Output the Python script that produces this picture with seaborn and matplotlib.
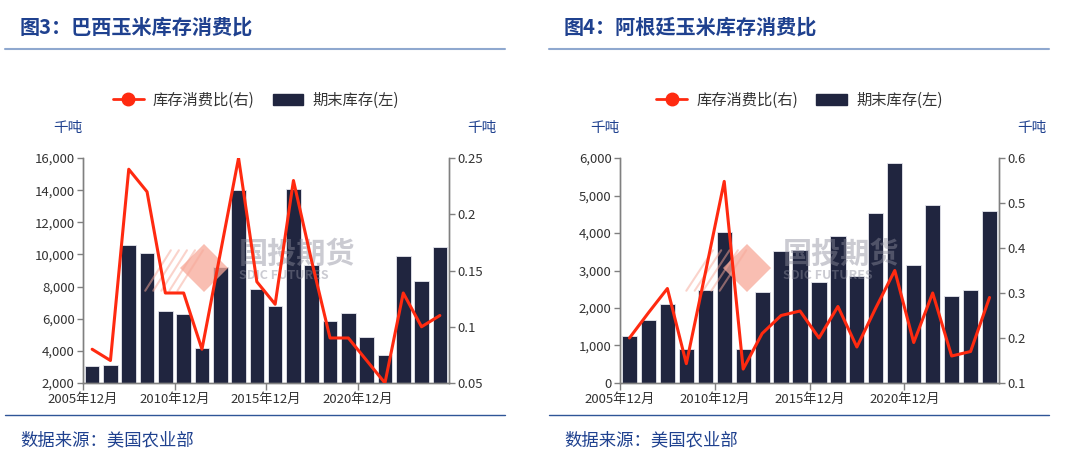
import numpy as np
import pandas as pd
import matplotlib
matplotlib.use("Agg")
import matplotlib.pyplot as plt
from matplotlib.lines import Line2D
from matplotlib.patches import Patch
from matplotlib.ticker import FuncFormatter, MultipleLocator
import seaborn as sns

years = list(range(2005, 2025))
tick_labels = ["2005年12月", "2010年12月", "2015年12月", "2020年12月"]

# 巴西
brazil_stock = [3050, 3100, 10600, 10100, 6500, 6300, 4200, 9200, 14000, 7850,
                6800, 14050, 9350, 5850, 6350, 4850, 3750, 9900, 8350, 10450]
brazil_ratio = [0.08, 0.07, 0.24, 0.22, 0.13, 0.13, 0.08, 0.165, 0.25, 0.14,
                0.12, 0.23, 0.158, 0.09, 0.09, 0.07, 0.05, 0.13, 0.10, 0.11]

# 阿根廷
argentina_stock = [1250, 1680, 2100, 900, 2490, 4040, 900, 2420, 3510, 3550,
                   2700, 3930, 2860, 4530, 5880, 3140, 4750, 2330, 2470, 4590]
argentina_ratio = [0.20, 0.256, 0.31, 0.143, 0.344, 0.548, 0.131, 0.21, 0.25, 0.26,
                   0.20, 0.27, 0.18, 0.267, 0.35, 0.19, 0.30, 0.16, 0.17, 0.29]

BAR = "#20253f"
RED = "#ff2a10"
BLUE = "#1f418f"
GRAY = "#808080"
TXT = "#333333"

sns.set_theme(style="white")
plt.rcParams["font.family"] = ["Noto Sans CJK SC", "DejaVu Sans"]

fig = plt.figure(figsize=(10.8, 4.62), dpi=100)


def _panel(x0, ax_left, ax_width, title, stock, ratio, ylim, ystep, rlim, rstep, wm_x):
    df = pd.DataFrame({"idx": range(len(years)), "stock": stock, "ratio": ratio})
    ax = fig.add_axes([ax_left, 0.171, ax_width, 0.487])
    sns.barplot(data=df, x="idx", y="stock", color=BAR, width=0.8,
                edgecolor="#e6e6ee", linewidth=0.6, saturation=1, ax=ax, zorder=2)
    ax.set_ylim(*ylim)
    ax.yaxis.set_major_locator(MultipleLocator(ystep))
    ax.yaxis.set_major_formatter(FuncFormatter(lambda v, p: f"{v:,.0f}"))
    ax.set_xlim(-0.5, len(years) - 0.5)
    ax.set_xticks([-0.5, 4.5, 9.5, 14.5])
    ax.set_xticklabels(tick_labels)
    ax.set_xlabel("")
    ax.set_ylabel("")

    ax2 = ax.twinx()
    sns.lineplot(data=df, x="idx", y="ratio", color=RED, linewidth=2.2, ax=ax2, zorder=5)
    ax2.set_ylim(*rlim)
    ax2.yaxis.set_major_locator(MultipleLocator(rstep))
    ax2.yaxis.set_major_formatter(FuncFormatter(lambda v, p: f"{v:g}"))
    ax2.set_ylabel("")
    ax2.set_xlim(-0.5, len(years) - 0.5)

    for a in (ax, ax2):
        for s in a.spines.values():
            s.set_color(GRAY)
            s.set_linewidth(1.0)
        a.spines["top"].set_visible(False)
        a.tick_params(axis="both", direction="out", length=4, width=1.0,
                      color=GRAY, labelcolor=TXT, labelsize=9.5, pad=2)
    ax.tick_params(axis="y", left=True, right=False)
    ax.tick_params(axis="x", bottom=True, length=5)
    ax2.tick_params(axis="y", right=True)

    # watermark (logo stripes, diamond, name) under the line
    for k in range(5):
        dx = wm_x - 0.16 + k * 0.022
        ax2.plot([dx, dx + 0.07], [0.41, 0.59], color="#f7a898", alpha=0.5,
                 linewidth=1.5, transform=ax2.transAxes, zorder=3)
    ax2.plot([wm_x], [0.51], marker="D", ms=24, color="#f7a898", alpha=0.75,
             transform=ax2.transAxes, zorder=3, markeredgewidth=0)
    ax2.text(wm_x + 0.095, 0.575, "国投期货", transform=ax2.transAxes, fontsize=21,
             color="#8c8c9c", alpha=0.45, va="center", ha="left", zorder=3,
             fontweight="bold")
    ax2.text(wm_x + 0.095, 0.48, "SDIC FUTURES", transform=ax2.transAxes, fontsize=9,
             color="#8c8c9c", alpha=0.45, va="center", ha="left", zorder=3,
             fontweight="bold")

    # header and footer
    fig.text(x0 + 20 / 1080, 1 - 27 / 462, title, fontsize=14.5, color=BLUE,
             fontweight="bold", va="center", ha="left")
    fig.add_artist(Line2D([x0 + 5 / 1080, x0 + 505 / 1080], [1 - 49 / 462] * 2,
                          color="#8fa8cf", linewidth=1.5))
    fig.add_artist(Line2D([x0 + 5 / 1080, x0 + 505 / 1080], [1 - 415 / 462] * 2,
                          color="#2f5597", linewidth=1.0))
    fig.text(x0 + 20 / 1080, 1 - 440 / 462, "数据来源：美国农业部", fontsize=12.5,
             color=BLUE, style="italic", va="center", ha="left")
    fig.text(ax_left - 30 / 1080, 1 - 128 / 462, "千吨", fontsize=10.5, color=BLUE,
             va="center", ha="left")
    fig.text(ax_left + ax_width + 18 / 1080, 1 - 128 / 462, "千吨", fontsize=10.5,
             color=BLUE, va="center", ha="left")

    handles = [Line2D([0], [0], color=RED, linewidth=2, marker="o", ms=9),
               Patch(facecolor=BAR, edgecolor=BAR)]
    fig.legend(handles, ["库存消费比(右)", "期末库存(左)"], loc="center",
               bbox_to_anchor=(ax_left + ax_width / 2 - 10 / 1080, 1 - 100 / 462),
               ncol=2, frameon=False, fontsize=11, handlelength=2.0,
               columnspacing=1.2, handletextpad=0.6, labelcolor=TXT)


_panel(0.0, 83 / 1080, 366 / 1080, "图3：巴西玉米库存消费比",
       brazil_stock, brazil_ratio, (2000, 16000), 2000, (0.05, 0.25), 0.05, 0.33)
_panel(544 / 1080, 620 / 1080, 379 / 1080, "图4：阿根廷玉米库存消费比",
       argentina_stock, argentina_ratio, (0, 6000), 1000, (0.1, 0.6), 0.1, 0.335)

fig.savefig("out.png", dpi=100)
